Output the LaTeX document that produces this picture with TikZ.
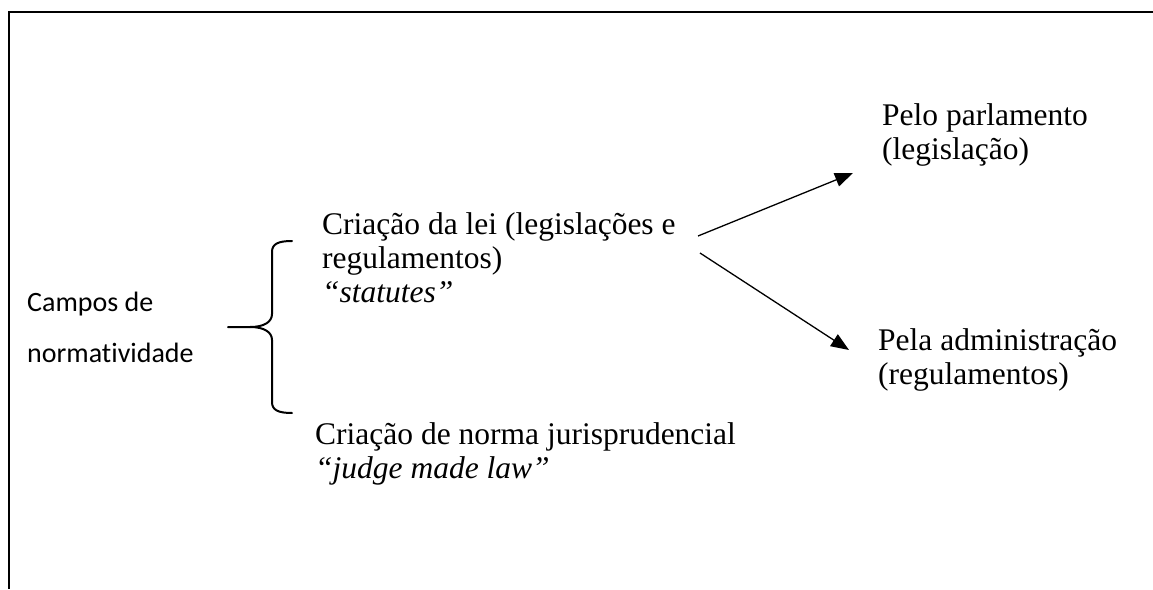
\documentclass[tikz,border=0pt]{standalone}
\usepackage{fontspec}
\setmainfont{Liberation Serif}
\newfontfamily\calibrifont[Ligatures={NoCommon,NoRare,NoContextual}]{Carlito}
\usetikzlibrary{arrows.meta}
\tikzset{
  serif/.style={inner sep=0pt, anchor=base west, font=\fontsize{31.5}{34}\selectfont},
  calib/.style={inner sep=0pt, anchor=base west, font=\calibrifont\fontsize{28}{51}\selectfont},
  arr/.style={line width=1.3pt, -{Triangle[length=18pt,width=14pt]}},
  bracestyle/.style={line width=2pt, line cap=round, line join=round},
  frame/.style={line width=2pt}
}
\newcommand{\lines}[1]{\begin{tabular}[t]{@{}l@{}}#1\end{tabular}}
\begin{document}
\begin{tikzpicture}[x=1pt,y=-1pt]
\useasboundingbox (0,0) rectangle (1153,589);
\draw[frame] (1153,12) -- (9,12) -- (9,589);

\node[calib] (campos) at (27,311) {\lines{Campos de\\normatividade}};

\draw[bracestyle] (292,241) .. controls (278,241) and (272,244) .. (272,252)
  -- (272,314) .. controls (272,322) and (264,327) .. (250,327) -- (228,327);
\draw[bracestyle] (250,327) .. controls (264,327) and (272,332) .. (272,340)
  -- (272,402) .. controls (272,410) and (278,413) .. (292,413);

\node[serif] (lei) at (322,234) {\lines{Criação da lei (legislações e\\regulamentos)\\\textit{“statutes”}}};
\node[serif] (juris) at (315,444) {\lines{Criação de norma jurisprudencial\\\textit{“judge made law”}}};
\node[serif] (parl) at (882,125) {\lines{Pelo parlamento\\(legislação)}};
\node[serif] (adm) at (878,350) {\lines{Pela administração\\(regulamentos)}};

\coordinate (s1) at (698,236);
\coordinate (t1) at (853,173);
\coordinate (s2) at (700,253);
\coordinate (t2) at (849,350);
\draw[arr] (s1) -- (t1);
\draw[arr] (s2) -- (t2);
\end{tikzpicture}
\end{document}
